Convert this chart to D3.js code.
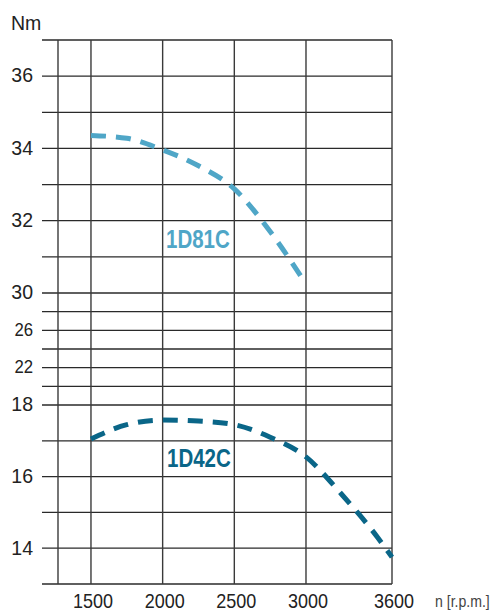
<!DOCTYPE html>
<html>
<head>
<meta charset="utf-8">
<script src="https://cdn.jsdelivr.net/npm/d3@7"></script>
<style>
  body { margin: 0; background: #fff; }
  text { font-family: "Liberation Sans", Arial, sans-serif; fill: #222; }
  .curve-label { font-weight: bold; }
</style>
</head>
<body>
<div id="chart"></div>
<script>
// rpm values (x) and torque readings (y, Nm)
const rpm81 = [1500, 1750, 2000, 2250, 2500, 2750, 3000];
const torque81 = [34.36, 34.28, 33.96, 33.52, 32.88, 31.7, 30.25];

const rpm42 = [1500, 1750, 2000, 2250, 2500, 2750, 3000, 3250, 3500, 3600];
const torque42 = [17.05, 17.45, 17.58, 17.55, 17.45, 17.1, 16.55, 15.5, 14.3, 13.75];

// axis ticks
const xTicks = [1500, 2000, 2500, 3000, 3600];
const yTicks = [14, 16, 18, 22, 26, 30, 32, 34, 36];
const yGrid = [13, 14, 15, 16, 17, 18, 20, 22, 24, 26, 28, 30, 31, 32, 33, 34, 35, 36, 37];

const width = 496, height = 613;

const svg = d3.select("#chart").append("svg")
    .attr("width", width)
    .attr("height", height);

// x is linear, y has a compressed middle band (18..30)
const x = d3.scaleLinear().domain([1270, 3600]).range([58, 392]);
const y = d3.scaleLinear().domain([13, 18, 30, 37]).range([584, 405, 293, 40]);

// horizontal grid (extends left as tick marks)
svg.append("g")
    .selectAll("line")
    .data(yGrid)
    .enter().append("line")
    .attr("x1", 42)
    .attr("x2", x(3600))
    .attr("y1", d => y(d))
    .attr("y2", d => y(d))
    .attr("stroke", "#2a2a2a")
    .attr("stroke-width", 1.3);

// vertical grid
svg.append("g")
    .selectAll("line")
    .data([1270].concat(xTicks))
    .enter().append("line")
    .attr("x1", d => x(d))
    .attr("x2", d => x(d))
    .attr("y1", y(37))
    .attr("y2", y(13))
    .attr("stroke", "#3a3a3a")
    .attr("stroke-width", 1.4);

// y tick labels (slightly condensed, like the original type)
svg.append("g")
    .selectAll("text")
    .data(yTicks)
    .enter().append("text")
    .attr("transform", d => `translate(33,${y(d)}) scale(0.93,1)`)
    .attr("dy", "0.3em")
    .attr("text-anchor", "end")
    .style("font-size", d => (d > 18 && d < 30) ? "18px" : "21px")
    .text(d => d);

// x tick labels
svg.append("g")
    .selectAll("text")
    .data(xTicks)
    .enter().append("text")
    .attr("transform", d => `translate(${x(d) + 2},608) scale(0.9,1)`)
    .attr("text-anchor", "middle")
    .style("font-size", "20px")
    .text(d => d);

svg.append("text")
    .attr("transform", "translate(11,30) scale(0.93,1)")
    .style("font-size", "21px")
    .text("Nm");

svg.append("text")
    .attr("transform", "translate(435,607) scale(0.88,1)")
    .style("font-size", "16px")
    .style("fill", "#444")
    .text("n [r.p.m.]");

// torque curves
const line = d3.line()
    .x(d => x(d[0]))
    .y(d => y(d[1]))
    .curve(d3.curveMonotoneX);

const series = [
    { name: "1D81C", rpm: rpm81, torque: torque81, color: "#4fa6c7", lx: 166, ly: 248 },
    { name: "1D42C", rpm: rpm42, torque: torque42, color: "#0a6688", lx: 167, ly: 467 }
];

series.forEach(s => {
    svg.append("path")
        .datum(d3.zip(s.rpm, s.torque))
        .attr("d", line)
        .attr("fill", "none")
        .attr("stroke", s.color)
        .attr("stroke-width", 5)
        .attr("stroke-dasharray", "15,10");

    svg.append("text")
        .attr("class", "curve-label")
        .attr("transform", `translate(${s.lx},${s.ly}) scale(0.82,1)`)
        .style("font-size", "25px")
        .style("fill", s.color)
        .text(s.name);
});
</script>
</body>
</html>
